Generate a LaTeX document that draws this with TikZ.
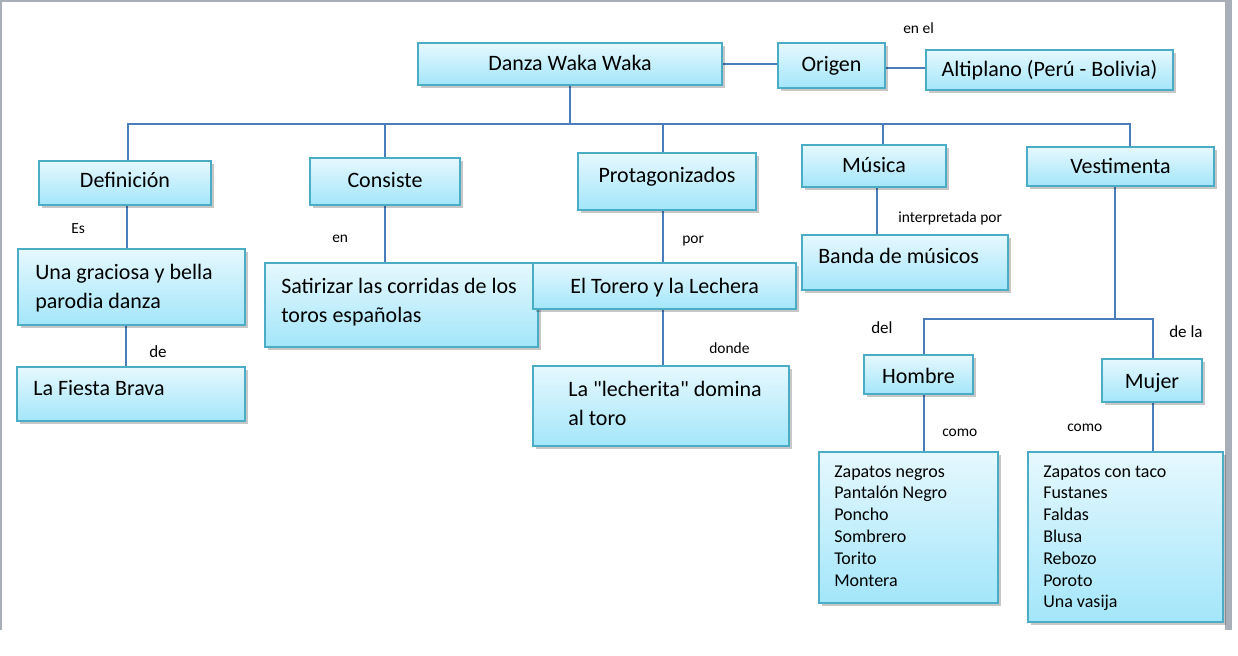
\documentclass[tikz,border=0pt]{standalone}
\usepackage{fontspec}
\setmainfont{Carlito}
\newfontfamily\qfont{Carlito}
\usetikzlibrary{fit,shadows}
\definecolor{bordc}{HTML}{4BACC6}
\definecolor{topc}{HTML}{E6F8FE}
\definecolor{botc}{HTML}{A3E6FA}
\definecolor{connc}{HTML}{4A7EBB}
\definecolor{framec}{HTML}{A8AFB8}
\pgfdeclarelayer{bg}
\pgfsetlayers{bg,main}
\tikzset{
  box/.style={draw=bordc, line width=1.5pt, top color=topc, bottom color=botc, inner sep=0pt,
    drop shadow={shadow xshift=2pt, shadow yshift=-2.2pt, opacity=0.22, fill=black}},
  conn/.style={draw=connc, line width=1.7pt},
  txt/.style={inner sep=0pt, font=\fontsize{16.5}{22.1}\selectfont, anchor=base},
  ltxt/.style={inner sep=0pt, font=\fontsize{16.5}{22.1}\selectfont, anchor=base west},
  lst/.style={inner sep=0pt, font=\fontsize{13.5}{16.35}\selectfont, anchor=base west},
  lab/.style={inner sep=0pt, font=\fontsize{11.6}{14}\selectfont, anchor=base west},
  labb/.style={inner sep=0pt, font=\fontsize{12.75}{15}\selectfont, anchor=base west},
}
\begin{document}
\begin{tikzpicture}[x=0.75pt,y=-0.75pt]
\useasboundingbox (0,0) rectangle (1238,656);
% page frame
\draw[framec, line width=1.2pt] (1,630) -- (1,1) -- (1226,1);
\fill[framec] (1225,0) rectangle (1232,630);

% boxes
\node[box, fit={(418,43) (722,85)}] (danza) {};
\node[box, fit={(778,43) (885,88)}] (origen) {};
\node[box, fit={(926,50) (1173,90)}] (alti) {};
\node[box, fit={(39,161) (211,205)}] (def) {};
\node[box, fit={(310,158) (460,205)}] (cons) {};
\node[box, fit={(578,153) (756,210)}] (prot) {};
\node[box, fit={(802,145) (946,187)}] (mus) {};
\node[box, fit={(1027,147) (1214,186)}] (vest) {};
\node[box, fit={(18,249) (245,325)}] (grac) {};
\node[box, fit={(17,367) (245,421)}] (fiesta) {};
\node[box, fit={(265,263) (538,347)}] (satir) {};
\node[box, fit={(533,263) (796,309)}] (torero) {};
\node[box, fit={(533,366) (789,446)}] (lech) {};
\node[box, fit={(802,235) (1008,290)}] (banda) {};
\node[box, fit={(864,355) (973,394)}] (hombre) {};
\node[box, fit={(1102,359) (1202,402)}] (mujer) {};
\node[box, fit={(819,452) (998,603)}] (hl) {};
\node[box, fit={(1028,452) (1223,622)}] (ml) {};

% box texts
\node[txt] (danza-t) at (570,71) {Danza Waka Waka};
\node[txt] (origen-t) at (831.5,72) {Origen};
\node[txt] (alti-t) at (1049.5,77) {Altiplano (Perú - Bolivia)};
\node[txt] (def-t) at (125,188) {Definición};
\node[txt] (cons-t) at (385,187) {Consiste};
\node[txt] (prot-t) at (667,182) {Protagonizados};
\node[txt] (mus-t) at (874,173) {Música};
\node[txt] (vest-t) at (1120.5,174) {Vestimenta};
\node[txt] (hombre-t) at (918.5,383) {Hombre};
\node[txt] (mujer-t) at (1152,388) {Mujer};
\node[ltxt] (grac-t) at (35,279) {\vtop{\hbox{Una graciosa y bella}\hbox{parodia danza}}};
\node[ltxt] (fiesta-t) at (33,395) {La Fiesta Brava};
\node[ltxt] (satir-t) at (281,293) {\vtop{\hbox{Satirizar las corridas de los}\hbox{toros españolas}}};
\node[ltxt] (torero-t) at (570,293) {El Torero y la Lechera};
\node[ltxt] (lech-t) at (568,396) {\vtop{\hbox{La {\qfont"}lecherita{\qfont"} domina}\hbox{al toro}}};
\node[ltxt] (banda-t) at (818,263) {Banda de músicos};
\node[lst] (hl-t) at (834,477) {\vtop{\hbox{Zapatos negros}\hbox{Pantalón Negro}\hbox{Poncho}\hbox{Sombrero}\hbox{Torito}\hbox{Montera}}};
\node[lst] (ml-t) at (1043,477) {\vtop{\hbox{Zapatos con taco}\hbox{Fustanes}\hbox{Faldas}\hbox{Blusa}\hbox{Rebozo}\hbox{Poroto}\hbox{Una vasija}}};

% connector labels
\node[lab] (l-enel) at (903,34) {en el};
\node[lab] (l-es) at (71,233) {Es};
\node[labb] (l-de) at (149,357) {de};
\node[lab] (l-en) at (332,242) {en};
\node[lab] (l-por) at (682,243) {por};
\node[lab] (l-donde) at (709,353) {donde};
\node[lab] (l-interp) at (898,222) {interpretada por};
\node[labb] (l-del) at (871,333) {del};
\node[labb] (l-dela) at (1169,337) {de la};
\node[lab] (l-como1) at (942,436) {como};
\node[lab] (l-como2) at (1067,431) {como};

% connectors
\coordinate (busL) at (128,124);
\coordinate (busR) at (1130,124);
\coordinate (busP) at (663,124);
\coordinate (busM) at (883,124);
\coordinate (spL) at (924,319);
\coordinate (spR) at (1153,319);
\coordinate (spV) at (1115,319);
\begin{pgfonlayer}{bg}
\draw[conn] (danza.east) -- (danza.east -| origen.west);
\draw[conn] (origen.east |- 0,68) -- (alti.west |- 0,68);
\draw[conn] (danza.south) -- (danza.south |- busL);
\draw[conn] (def.north -| busL) -- (busL) -- (busR) -- (vest.north -| busR);
\draw[conn] (cons.north) -- (cons.north |- busL);
\draw[conn] (prot.north -| busP) -- (busP);
\draw[conn] (mus.north -| busM) -- (busM);
\draw[conn] (def.south -| 127,0) -- (grac.north -| 127,0);
\draw[conn] (grac.south -| 126,0) -- (fiesta.north -| 126,0);
\draw[conn] (cons.south) -- (cons.south |- satir.north);
\draw[conn] (prot.south -| busP) -- (torero.north -| busP);
\draw[conn] (torero.south -| busP) -- (lech.north -| busP);
\draw[conn] (mus.south -| 877,0) -- (banda.north -| 877,0);
\draw[conn] (vest.south -| spV) -- (spV);
\draw[conn] (hombre.north -| spL) -- (spL) -- (spR) -- (mujer.north -| spR);
\draw[conn] (hombre.south -| spL) -- (hl.north -| spL);
\draw[conn] (mujer.south -| spR) -- (ml.north -| spR);
\end{pgfonlayer}
\end{tikzpicture}
\end{document}
